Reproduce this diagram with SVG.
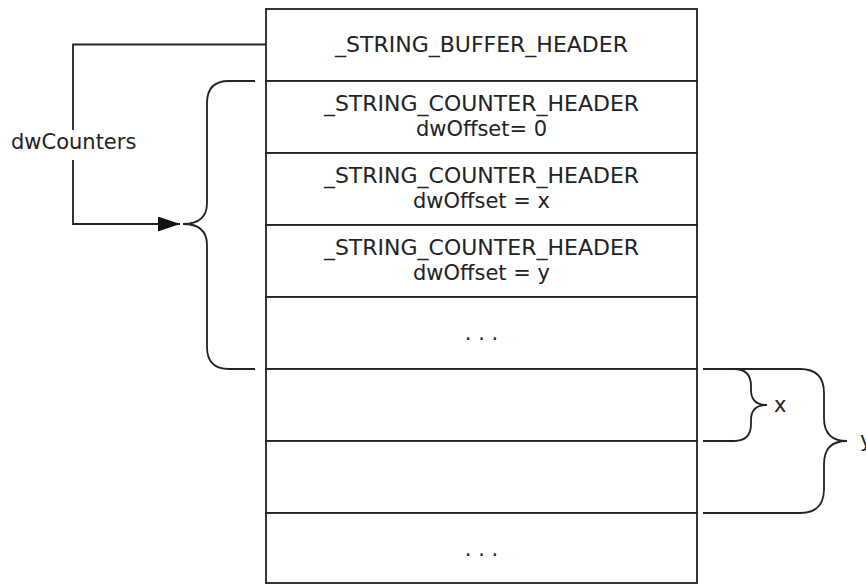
<svg xmlns="http://www.w3.org/2000/svg" width="866" height="584" viewBox="0 0 866 584">
<style>
.box{fill:#fff;stroke:#222;stroke-width:1.8}
.ln{fill:none;stroke:#222;stroke-width:1.8}
.cap{font-family:"DejaVu Sans",Verdana,sans-serif;font-size:22px;fill:#222;text-anchor:middle}
.low{font-family:"DejaVu Sans",Verdana,sans-serif;font-size:21px;fill:#222;text-anchor:middle}
.lbl{font-family:"DejaVu Sans",Verdana,sans-serif;font-size:21px;fill:#222}
</style>
<defs>
<marker id="arr" markerWidth="24" markerHeight="16" refX="22" refY="7.5" orient="auto" markerUnits="userSpaceOnUse">
<path d="M0,0 L22,7.5 L0,15 Z" fill="#111"/>
</marker>
</defs>
<rect width="866" height="584" fill="#fff"/>
<g id="row1"><rect class="box" x="266" y="9" width="431" height="72"/><text class="cap" x="481.5" y="51.5">_STRING_BUFFER_HEADER</text></g>
<g id="row2"><rect class="box" x="266" y="81" width="431" height="72"/><text class="cap" x="481.5" y="111">_STRING_COUNTER_HEADER</text><text class="low" x="481.5" y="135.5">dwOffset= 0</text></g>
<g id="row3"><rect class="box" x="266" y="153" width="431" height="72"/><text class="cap" x="481.5" y="183">_STRING_COUNTER_HEADER</text><text class="low" x="481.5" y="207.5">dwOffset = x</text></g>
<g id="row4"><rect class="box" x="266" y="225" width="431" height="72"/><text class="cap" x="481.5" y="255">_STRING_COUNTER_HEADER</text><text class="low" x="481.5" y="279.5">dwOffset = y</text></g>
<g id="row5"><rect class="box" x="266" y="297" width="431" height="72"/><text class="low" x="481.5" y="340" fill="#555">. . .</text></g>
<g id="row6"><rect class="box" x="266" y="369" width="431" height="72"/></g>
<g id="row7"><rect class="box" x="266" y="441" width="431" height="72"/></g>
<g id="row8"><rect class="box" x="266" y="513" width="431" height="70"/><text class="low" x="481.5" y="556" fill="#555">. . .</text></g>
<g id="connectors">
<path class="ln" d="M266,44.5 H73 V224 H180" marker-end="url(#arr)"/>
<path class="ln" d="M255,81 H229 Q207,81 207,103 V203 Q207,224 183,224 Q207,224 207,245 V347 Q207,369 229,369 H255"/>
<path class="ln" d="M703,369 H734 Q751,369 751,386 V390 Q751,405 767,405 Q751,405 751,420 V424 Q751,441 734,441 H703"/>
<path class="ln" d="M703,369 H800 Q824,369 824,393 V418 Q824,441 847,441 Q824,441 824,464 V489 Q824,513 800,513 H703"/>
</g>
<g id="labels">
<rect x="8" y="130" width="134" height="30" fill="#fff"/>
<text class="lbl" x="11" y="149">dwCounters</text>
<text class="lbl" x="774" y="412">x</text>
<text class="lbl" x="860" y="447">y</text>
</g>
</svg>
